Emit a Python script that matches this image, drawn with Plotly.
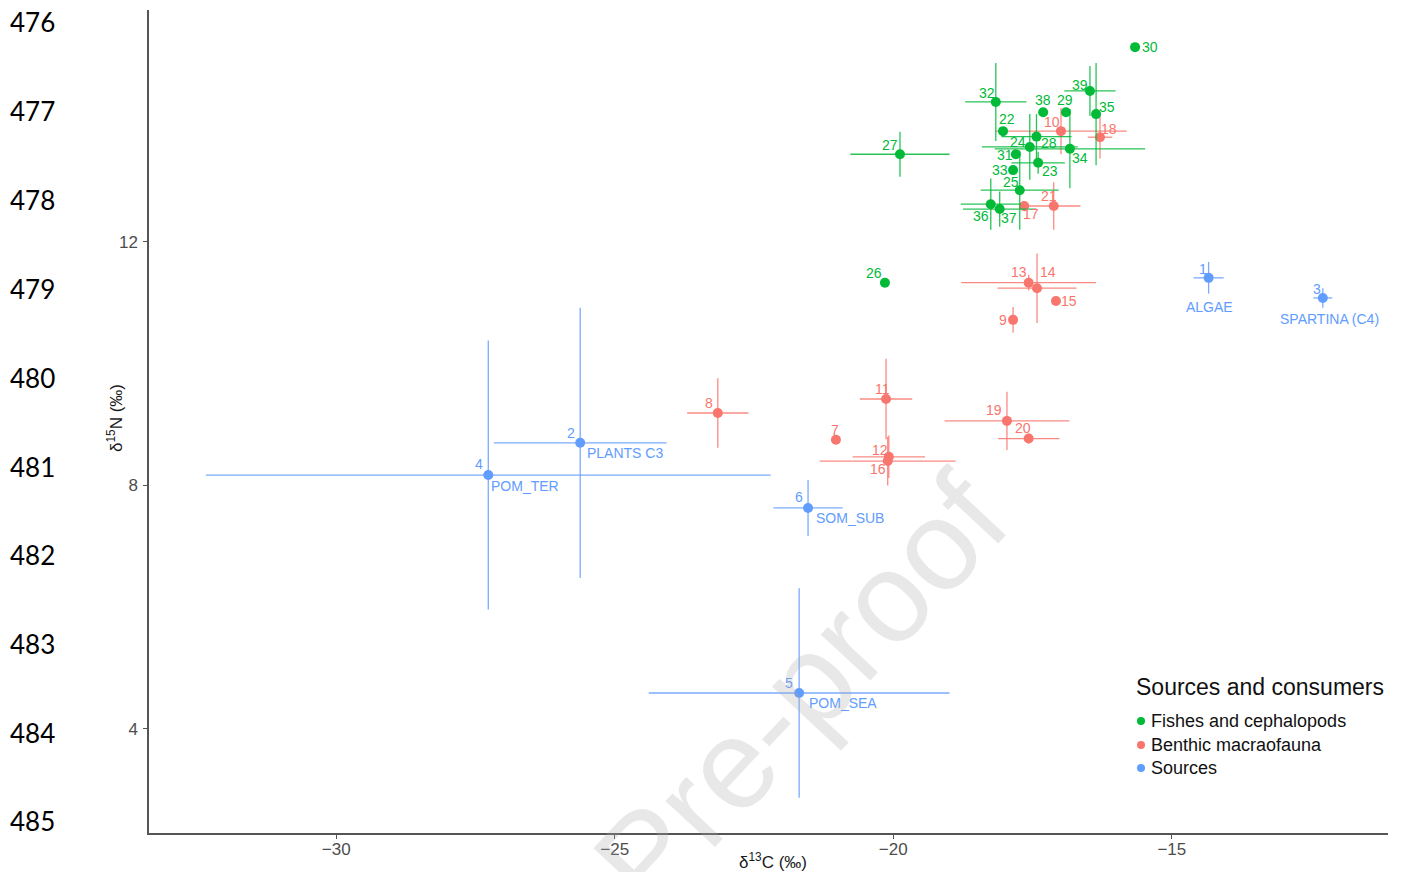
import plotly.graph_objects as go

# ---- data: d13C / d15N means and SDs per sample ----
src_id = ["1", "2", "3", "4", "5", "6"]
src_x = [-14.34, -25.62, -12.29, -27.27, -21.69, -21.53]
src_y = [11.41, 8.70, 11.08, 8.17, 4.59, 7.63]
src_sdx = [0.27, 1.55, 0.17, 5.07, 2.70, 0.62]
src_sdy = [0.26, 2.22, 0.16, 2.21, 1.72, 0.46]
src_name = ["ALGAE", "PLANTS C3", "SPARTINA (C4)", "POM_TER", "POM_SEA", "SOM_SUB"]

ben_id = ["7", "8", "9", "10", "11", "12", "13", "14", "15", "16", "17", "18", "19", "20", "21"]
ben_x = [-21.03, -23.15, -17.85, -16.99, -20.13, -20.08, -17.57, -17.42, -17.08, -20.10, -17.65, -16.29, -17.96, -17.57, -17.12]
ben_y = [8.75, 9.19, 10.72, 13.82, 9.42, 8.47, 11.33, 11.24, 11.03, 8.40, 12.59, 13.72, 9.06, 8.77, 12.59]
ben_sdx = [0.0, 0.55, 0.0, 1.18, 0.47, 0.65, 1.21, 0.71, 0.0, 1.22, 0.0, 0.22, 1.12, 0.55, 0.48]
ben_sdy = [0.0, 0.57, 0.21, 0.38, 0.66, 0.35, 0.13, 0.57, 0.0, 0.40, 0.0, 0.35, 0.48, 0.08, 0.39]

fish_id = ["22", "23", "24", "25", "26", "27", "28", "29", "30", "31", "32", "33", "34", "35", "36", "37", "38", "39"]
fish_x = [-18.03, -17.40, -17.55, -17.73, -20.15, -19.88, -17.43, -16.90, -15.66, -17.80, -18.16, -17.85, -16.83, -16.36, -18.25, -18.09, -17.31, -16.47]
fish_y = [13.82, 13.30, 13.56, 12.85, 11.33, 13.44, 13.73, 14.13, 15.20, 13.44, 14.30, 13.18, 13.53, 14.10, 12.62, 12.54, 14.13, 14.48]
fish_sdx = [0.0, 0.48, 0.86, 0.70, 0.0, 0.89, 0.63, 0.0, 0.0, 0.0, 0.55, 0.0, 1.35, 0.0, 0.54, 0.66, 0.0, 0.46]
fish_sdy = [0.0, 0.18, 0.54, 0.65, 0.0, 0.37, 0.37, 0.0, 0.0, 0.0, 0.64, 0.0, 0.65, 0.84, 0.42, 0.29, 0.0, 0.41]

x_ticks = [-30, -25, -20, -15]
x_tick_text = ["−30", "−25", "−20", "−15"]
y_ticks = [4, 8, 12]
line_numbers = ["476", "477", "478", "479", "480", "481", "482", "483", "484", "485"]

group_names = ["Fishes and cephalopods", "Benthic macraofauna", "Sources"]

# ---- styling ----
GREEN, RED, BLUE = "#00BA38", "#F8766D", "#619CFF"
FONT = "Liberation Sans, Arial, sans-serif"

# pixel offset (dx right, dy down) of each sample number from its point
label_off = {
    "1": (-6, -9), "2": (-9, -10), "3": (-6, -9), "4": (-9, -11), "5": (-10, -10), "6": (-9, -11),
    "7": (-1, -10), "8": (-9, -10), "9": (-10, 0), "10": (-9, -9), "11": (-4, -10), "12": (-9, -7),
    "13": (-10, -11), "14": (11, -16), "15": (13, 0), "16": (-10, 8), "17": (7, 8), "18": (9, -8),
    "19": (-13, -11), "20": (-6, -11), "21": (-5, -10), "22": (4, -12), "23": (12, 8), "24": (-12, -5),
    "25": (-9, -8), "26": (-11, -10), "27": (-10, -9), "28": (13, 6), "29": (-1, -12), "30": (15, 0),
    "31": (-11, 1), "32": (-9, -9), "33": (-13, 0), "34": (10, 9), "35": (11, -7), "36": (-10, 12),
    "37": (9, 9), "38": (0, -12), "39": (-10, -6),
}
# source names: (dx, dy down, xanchor)
name_off = {
    "ALGAE": (1, 29, "center"), "PLANTS C3": (5, 10, "left"), "SPARTINA (C4)": (7, 21, "center"),
    "POM_TER": (1, 11, "left"), "POM_SEA": (8, 10, "left"), "SOM_SUB": (6, 10, "left"),
}


def rgba(hex_color, a):
    h = hex_color.lstrip("#")
    return "rgba(%d,%d,%d,%s)" % (int(h[0:2], 16), int(h[2:4], 16), int(h[4:6], 16), a)


fig = go.Figure()
annotations = []
shapes = []


def add_group(ids, xs, ys, sdx, sdy, color):
    fig.add_trace(go.Scatter(
        x=xs, y=ys, mode="markers", text=ids,
        marker=dict(color=color, size=10, line=dict(width=0)),
        error_x=dict(type="data", array=sdx, color=rgba(color, 0.85), thickness=1.3, width=0),
        error_y=dict(type="data", array=sdy, color=rgba(color, 0.85), thickness=1.3, width=0),
        showlegend=False, cliponaxis=False, hoverinfo="x+y+text",
    ))
    for i, x, y in zip(ids, xs, ys):
        dx, dy = label_off[i]
        annotations.append(dict(x=x, y=y, xref="x", yref="y", text=i, showarrow=False,
                                xanchor="center", yanchor="middle", xshift=dx, yshift=-dy,
                                font=dict(family=FONT, size=14, color=color)))


add_group(src_id, src_x, src_y, src_sdx, src_sdy, BLUE)
add_group(ben_id, ben_x, ben_y, ben_sdx, ben_sdy, RED)
add_group(fish_id, fish_x, fish_y, fish_sdx, fish_sdy, GREEN)

# source names under their points
for name, x, y in zip(src_name, src_x, src_y):
    dx, dy, anchor = name_off[name]
    annotations.append(dict(x=x, y=y, xref="x", yref="y", text=name, showarrow=False,
                            xanchor=anchor, yanchor="middle", xshift=dx, yshift=-dy,
                            font=dict(family=FONT, size=14, color=BLUE)))

# plot-area geometry in pixels, for placing paper-referenced items
PW, PH, L, B = 1239.0, 823.0, 149.0, 833.0


def px_to_paper(px, py):
    return (px - L) / PW, (B - py) / PH


# axis titles
ax, ay = px_to_paper(773, 861)
annotations.append(dict(x=ax, y=ay, xref="paper", yref="paper", xanchor="center", yanchor="middle",
                        text="δ<sup>13</sup>C (‰)", showarrow=False,
                        font=dict(family=FONT, size=17, color="#1a1a1a")))
ax, ay = px_to_paper(115, 418)
annotations.append(dict(x=ax, y=ay, xref="paper", yref="paper", xanchor="center", yanchor="middle",
                        text="δ<sup>15</sup>N (‰)", textangle=-90, showarrow=False,
                        font=dict(family=FONT, size=17, color="#1a1a1a")))

# legend drawn as markers + text
tx, ty = px_to_paper(1134, 687)
annotations.append(dict(x=tx, y=ty, xref="paper", yref="paper", xanchor="left", yanchor="middle",
                        text="Sources and consumers", showarrow=False,
                        font=dict(family=FONT, size=23, color="#111")))
for name, color, py in zip(group_names, [GREEN, RED, BLUE], [721, 745, 768]):
    mx, my = px_to_paper(1141, py)
    shapes.append(dict(type="circle", xref="paper", yref="paper", xsizemode="pixel", ysizemode="pixel",
                       xanchor=mx, yanchor=my, x0=-4, x1=4, y0=-4, y1=4,
                       fillcolor=color, line=dict(width=0)))
    lx, ly = px_to_paper(1149, py)
    annotations.append(dict(x=lx, y=ly, xref="paper", yref="paper", xanchor="left", yanchor="middle",
                            text=name, showarrow=False, font=dict(family=FONT, size=18, color="#111")))

# manuscript line numbers down the left edge
for lab, py in zip(line_numbers, [22, 111, 200, 289, 378, 467, 555, 644, 733, 821]):
    nx, ny = px_to_paper(8, py)
    annotations.append(dict(x=nx, y=ny, xref="paper", yref="paper", xanchor="left", yanchor="middle",
                            text=lab, showarrow=False, font=dict(family="Lato, sans-serif", size=26, color="#000")))

# watermark
wx, wy = px_to_paper(800, 690)
annotations.append(dict(x=wx, y=wy, xref="paper", yref="paper", xanchor="center", yanchor="middle",
                        text="Pre-proof", showarrow=False, textangle=-47,
                        font=dict(family=FONT, size=128, color="rgba(170,170,170,0.27)")))

axis_common = dict(showgrid=False, zeroline=False, showline=True, linecolor="#555", linewidth=1.5,
                   ticks="outside", ticklen=4, tickcolor="#555", tickwidth=1,
                   tickfont=dict(family=FONT, size=17, color="#4d4d4d"), mirror=False)

fig.update_layout(
    width=1404, height=872,
    margin=dict(l=149, r=16, t=10, b=39),
    paper_bgcolor="white", plot_bgcolor="white",
    xaxis=dict(range=[-33.36, -11.12], tickvals=x_ticks, ticktext=x_tick_text,
               ticklabelstandoff=-4, **axis_common),
    yaxis=dict(range=[2.29, 15.81], tickvals=y_ticks, ticklabelstandoff=2, **axis_common),
    annotations=annotations, shapes=shapes, showlegend=False,
)

fig.write_html("out.html")
